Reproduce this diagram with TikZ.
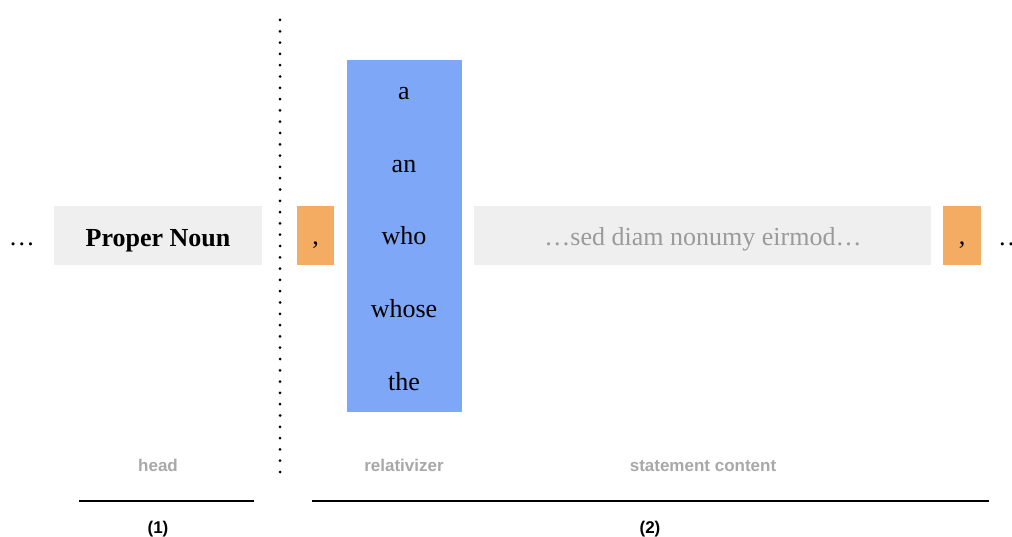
\documentclass[tikz,border=0pt]{standalone}
\usepackage{fontspec}
\setmainfont{Liberation Serif}
\setsansfont{Liberation Sans}
\usepackage{tikz}

\definecolor{boxgray}{HTML}{EFEFEF}
\definecolor{commaorange}{HTML}{F4AB62}
\definecolor{relblue}{HTML}{7FA7F7}
\definecolor{textgray}{HTML}{9A9A9A}
\definecolor{labelgray}{HTML}{A8A8A8}

\begin{document}
\begin{tikzpicture}[x=1pt, y=-1pt]
\tikzstyle{every node} = [inner sep=0pt, outer sep=0pt]
\tikzstyle{word} = [anchor=base, font=\fontsize{26}{30}\selectfont]
\tikzstyle{slot} = [anchor=north west, minimum height=59pt]
\tikzstyle{label} = [anchor=base, text=labelgray, font=\sffamily\bfseries\fontsize{17}{20}\selectfont]
\tikzstyle{part} = [anchor=base, font=\sffamily\bfseries\fontsize{17}{20}\selectfont]
\useasboundingbox (0, 0) rectangle (1012, 537);

% boxes
\node[slot, fill=boxgray, minimum width=208pt] (head) at (54, 206) {};
\node[slot, fill=commaorange, minimum width=37pt] (c1) at (297, 206) {};
\node[anchor=north west, fill=relblue, minimum width=115pt, minimum height=352pt] (rel) at (347, 60) {};
\node[slot, fill=boxgray, minimum width=457pt] (stmt) at (474, 206) {};
\node[slot, fill=commaorange, minimum width=38pt] (c2) at (943, 206) {};

% words
\node[word] (dl) at (22, 246) {\dots};
\node[word] (pn) at (158, 247) {\textbf{Proper Noun}};
\node[word] (k1) at (315.5, 245) {,};
\node[word] (w1) at (404, 100) {a};
\node[word] (w2) at (404, 173) {an};
\node[word] (w3) at (404, 245) {who};
\node[word] (w4) at (404, 318) {whose};
\node[word] (w5) at (404, 390) {the};
\node[word, text=textgray] (txt) at (703, 246) {\dots sed diam nonumy eirmod\dots};
\node[word] (k2) at (962, 245) {,};
\node[word] (dr) at (1011, 246) {\dots};

% divider
\coordinate (top) at (280, 20);
\coordinate (bot) at (280, 472);
\draw[line width=3pt, dash pattern=on 0pt off 11.3pt, line cap=round] (top) -- (bot);

% labels
\node[label] (lh) at (158, 471) {head};
\node[label] (lr) at (404, 471) {relativizer};
\node[label] (ls) at (703, 471) {statement content};

% brackets
\coordinate (a1) at (79, 501);
\coordinate (b1) at (254, 501);
\coordinate (a2) at (312, 501);
\coordinate (b2) at (989, 501);
\draw[line width=1.2pt] (a1) -- (b1);
\draw[line width=1.2pt] (a2) -- (b2);
\node[part] (p1) at (158, 533) {(1)};
\node[part] (p2) at (650, 533) {(2)};
\end{tikzpicture}
\end{document}
